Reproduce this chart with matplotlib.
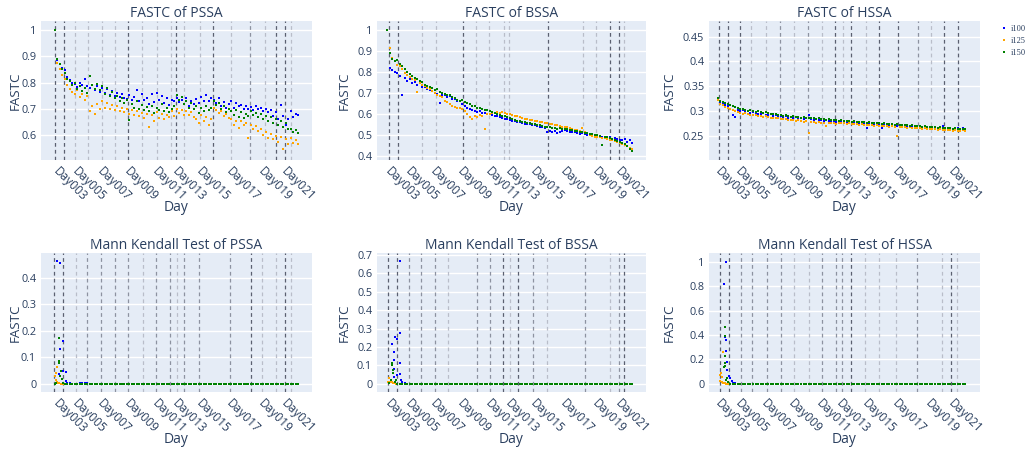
import matplotlib
matplotlib.use("Agg")
import matplotlib.pyplot as plt
from matplotlib.lines import Line2D
from matplotlib.ticker import FuncFormatter

plt.rcParams['font.family'] = ['Open Sans', 'DejaVu Sans']

# ---------------- data ----------------
series_names = ["i100", "i125", "i150"]
series_colors = ["blue", "orange", "green"]

day_labels = ["Day003", "Day005", "Day007", "Day009", "Day011",
              "Day013", "Day015", "Day017", "Day019", "Day021"]
day_tick_idx = [0, 8, 18, 29, 40, 48, 58, 70, 83, 92]
n_samples = 99

fastc_pssa_i100 = [1.000, 0.885, 0.870, 0.855, 0.848, 0.822, 0.810, 0.800, 0.795, 0.782,
                   0.800, 0.790, 0.812, 0.785, 0.778, 0.792, 0.770, 0.785, 0.765, 0.778,
                   0.760, 0.775, 0.752, 0.768, 0.748, 0.760, 0.745, 0.755, 0.742, 0.738,
                   0.752, 0.735, 0.745, 0.770, 0.728, 0.755, 0.735, 0.742, 0.718, 0.758,
                   0.725, 0.762, 0.735, 0.748, 0.722, 0.740, 0.715, 0.735, 0.728, 0.742,
                   0.725, 0.735, 0.718, 0.740, 0.712, 0.728, 0.720, 0.738, 0.722, 0.745,
                   0.728, 0.752, 0.730, 0.742, 0.735, 0.722, 0.740, 0.712, 0.725, 0.705,
                   0.718, 0.728, 0.705, 0.722, 0.710, 0.715, 0.700, 0.712, 0.698, 0.708,
                   0.695, 0.710, 0.698, 0.702, 0.690, 0.700, 0.688, 0.695, 0.672, 0.688,
                   0.660, 0.715, 0.672, 0.640, 0.662, 0.690, 0.670, 0.682, 0.675]
fastc_pssa_i125 = [1.000, 0.875, 0.850, 0.828, 0.815, 0.790, 0.775, 0.765, 0.755, 0.770,
                   0.745, 0.758, 0.735, 0.748, 0.690, 0.712, 0.680, 0.720, 0.700, 0.728,
                   0.705, 0.722, 0.700, 0.715, 0.695, 0.710, 0.692, 0.705, 0.688, 0.700,
                   0.682, 0.695, 0.675, 0.690, 0.672, 0.685, 0.665, 0.680, 0.631, 0.675,
                   0.655, 0.688, 0.665, 0.682, 0.660, 0.678, 0.668, 0.690, 0.672, 0.700,
                   0.685, 0.695, 0.678, 0.692, 0.675, 0.688, 0.670, 0.662, 0.648, 0.675,
                   0.655, 0.668, 0.640, 0.660, 0.705, 0.695, 0.685, 0.690, 0.672, 0.682,
                   0.665, 0.660, 0.640, 0.655, 0.628, 0.652, 0.638, 0.648, 0.590, 0.640,
                   0.625, 0.635, 0.615, 0.625, 0.600, 0.612, 0.590, 0.605, 0.585, 0.598,
                   0.575, 0.592, 0.549, 0.585, 0.565, 0.590, 0.572, 0.580, 0.568]
fastc_pssa_i150 = [1.000, 0.890, 0.872, 0.850, 0.838, 0.815, 0.805, 0.790, 0.800, 0.775,
                   0.785, 0.768, 0.780, 0.760, 0.826, 0.790, 0.775, 0.795, 0.770, 0.785,
                   0.755, 0.778, 0.748, 0.765, 0.740, 0.750, 0.728, 0.742, 0.722, 0.735,
                   0.659, 0.720, 0.705, 0.728, 0.700, 0.715, 0.695, 0.708, 0.690, 0.712,
                   0.685, 0.705, 0.695, 0.718, 0.690, 0.705, 0.688, 0.700, 0.710, 0.752,
                   0.735, 0.745, 0.720, 0.730, 0.705, 0.722, 0.700, 0.712, 0.685, 0.705,
                   0.690, 0.712, 0.695, 0.705, 0.728, 0.715, 0.722, 0.700, 0.710, 0.688,
                   0.700, 0.692, 0.678, 0.695, 0.670, 0.688, 0.665, 0.682, 0.672, 0.690,
                   0.675, 0.685, 0.668, 0.680, 0.660, 0.672, 0.655, 0.668, 0.645, 0.660,
                   0.640, 0.652, 0.630, 0.645, 0.622, 0.625, 0.612, 0.620, 0.608]

fastc_bssa_i100 = [1.000, 0.820, 0.810, 0.800, 0.795, 0.780, 0.692, 0.770, 0.758, 0.765,
                   0.745, 0.752, 0.740, 0.745, 0.730, 0.728, 0.720, 0.715, 0.708, 0.702,
                   0.695, 0.652, 0.690, 0.688, 0.680, 0.684, 0.672, 0.670, 0.662, 0.660,
                   0.648, 0.638, 0.630, 0.625, 0.620, 0.615, 0.610, 0.612, 0.605, 0.602,
                   0.600, 0.598, 0.595, 0.590, 0.588, 0.584, 0.580, 0.578, 0.575, 0.572,
                   0.568, 0.565, 0.562, 0.560, 0.556, 0.554, 0.552, 0.550, 0.546, 0.545,
                   0.542, 0.540, 0.538, 0.535, 0.515, 0.520, 0.512, 0.518, 0.510, 0.515,
                   0.520, 0.522, 0.518, 0.515, 0.514, 0.512, 0.510, 0.505, 0.508, 0.503,
                   0.500, 0.498, 0.497, 0.495, 0.493, 0.490, 0.490, 0.488, 0.486, 0.490,
                   0.482, 0.485, 0.480, 0.478, 0.475, 0.480, 0.468, 0.475, 0.460]
fastc_bssa_i125 = [1.000, 0.912, 0.868, 0.850, 0.835, 0.828, 0.815, 0.795, 0.785, 0.775,
                   0.768, 0.760, 0.705, 0.748, 0.740, 0.732, 0.725, 0.718, 0.710, 0.700,
                   0.692, 0.685, 0.680, 0.660, 0.655, 0.648, 0.640, 0.635, 0.630, 0.628,
                   0.622, 0.615, 0.598, 0.585, 0.575, 0.590, 0.585, 0.595, 0.590, 0.530,
                   0.598, 0.600, 0.602, 0.605, 0.608, 0.605, 0.610, 0.603, 0.600, 0.598,
                   0.595, 0.592, 0.588, 0.585, 0.580, 0.578, 0.575, 0.572, 0.570, 0.568,
                   0.565, 0.563, 0.560, 0.558, 0.555, 0.552, 0.550, 0.548, 0.545, 0.543,
                   0.540, 0.538, 0.536, 0.534, 0.530, 0.525, 0.522, 0.518, 0.535, 0.512,
                   0.508, 0.500, 0.495, 0.492, 0.490, 0.488, 0.486, 0.484, 0.482, 0.478,
                   0.475, 0.472, 0.468, 0.462, 0.458, 0.452, 0.446, 0.440, 0.432]
fastc_bssa_i150 = [1.000, 0.890, 0.860, 0.850, 0.855, 0.840, 0.830, 0.815, 0.800, 0.790,
                   0.780, 0.772, 0.765, 0.755, 0.750, 0.740, 0.735, 0.728, 0.722, 0.715,
                   0.718, 0.705, 0.700, 0.695, 0.690, 0.688, 0.682, 0.675, 0.668, 0.662,
                   0.668, 0.655, 0.650, 0.645, 0.640, 0.636, 0.630, 0.628, 0.625, 0.620,
                   0.618, 0.615, 0.610, 0.605, 0.600, 0.595, 0.592, 0.588, 0.585, 0.580,
                   0.575, 0.570, 0.568, 0.565, 0.562, 0.560, 0.558, 0.555, 0.552, 0.550,
                   0.548, 0.545, 0.543, 0.540, 0.540, 0.536, 0.535, 0.532, 0.530, 0.532,
                   0.528, 0.530, 0.526, 0.524, 0.522, 0.520, 0.518, 0.515, 0.512, 0.510,
                   0.508, 0.505, 0.503, 0.500, 0.498, 0.495, 0.454, 0.492, 0.488, 0.485,
                   0.482, 0.478, 0.472, 0.468, 0.462, 0.455, 0.448, 0.435, 0.422]

fastc_hssa_i100 = [0.322, 0.318, 0.315, 0.312, 0.310, 0.305, 0.293, 0.288, 0.302, 0.300,
                   0.302, 0.298, 0.300, 0.297, 0.298, 0.296, 0.295, 0.294, 0.296, 0.293,
                   0.292, 0.294, 0.290, 0.292, 0.289, 0.291, 0.288, 0.290, 0.287, 0.288,
                   0.286, 0.288, 0.285, 0.286, 0.284, 0.285, 0.293, 0.284, 0.282, 0.283,
                   0.281, 0.282, 0.280, 0.281, 0.280, 0.279, 0.280, 0.278, 0.279, 0.278,
                   0.277, 0.278, 0.276, 0.277, 0.275, 0.276, 0.275, 0.274, 0.275, 0.266,
                   0.274, 0.273, 0.274, 0.272, 0.273, 0.266, 0.272, 0.271, 0.272, 0.270,
                   0.271, 0.270, 0.271, 0.269, 0.270, 0.268, 0.269, 0.268, 0.267, 0.268,
                   0.267, 0.268, 0.266, 0.267, 0.268, 0.266, 0.267, 0.265, 0.266, 0.270,
                   0.266, 0.265, 0.266, 0.264, 0.265, 0.266, 0.264, 0.265, 0.263]
fastc_hssa_i125 = [0.322, 0.315, 0.312, 0.309, 0.307, 0.304, 0.302, 0.300, 0.298, 0.297,
                   0.295, 0.296, 0.294, 0.293, 0.292, 0.293, 0.291, 0.290, 0.289, 0.290,
                   0.288, 0.287, 0.286, 0.287, 0.285, 0.284, 0.283, 0.284, 0.282, 0.281,
                   0.282, 0.280, 0.281, 0.279, 0.278, 0.279, 0.256, 0.277, 0.278, 0.276,
                   0.277, 0.275, 0.276, 0.269, 0.276, 0.275, 0.276, 0.274, 0.275, 0.276,
                   0.275, 0.274, 0.275, 0.273, 0.274, 0.273, 0.272, 0.273, 0.272, 0.271,
                   0.272, 0.271, 0.270, 0.271, 0.270, 0.269, 0.270, 0.269, 0.268, 0.269,
                   0.268, 0.250, 0.268, 0.267, 0.268, 0.266, 0.267, 0.266, 0.265, 0.266,
                   0.265, 0.264, 0.265, 0.264, 0.263, 0.264, 0.263, 0.262, 0.263, 0.262,
                   0.261, 0.262, 0.261, 0.260, 0.261, 0.259, 0.260, 0.261, 0.260]
fastc_hssa_i150 = [0.326, 0.320, 0.318, 0.316, 0.314, 0.312, 0.310, 0.309, 0.306, 0.305,
                   0.304, 0.303, 0.301, 0.302, 0.300, 0.299, 0.300, 0.298, 0.297, 0.299,
                   0.296, 0.295, 0.294, 0.295, 0.293, 0.292, 0.291, 0.292, 0.290, 0.289,
                   0.290, 0.288, 0.289, 0.287, 0.288, 0.286, 0.287, 0.285, 0.286, 0.284,
                   0.285, 0.283, 0.284, 0.282, 0.283, 0.281, 0.282, 0.281, 0.280, 0.281,
                   0.279, 0.280, 0.279, 0.278, 0.279, 0.277, 0.278, 0.277, 0.278, 0.276,
                   0.277, 0.276, 0.275, 0.276, 0.275, 0.274, 0.275, 0.274, 0.273, 0.274,
                   0.272, 0.273, 0.272, 0.271, 0.272, 0.271, 0.270, 0.271, 0.270, 0.269,
                   0.270, 0.268, 0.269, 0.268, 0.267, 0.268, 0.267, 0.266, 0.267, 0.266,
                   0.265, 0.266, 0.265, 0.264, 0.265, 0.264, 0.263, 0.264, 0.263]

# Mann Kendall p-values: early points (fractional sample positions) + tail from an integer start
mk_pssa_i100_x = [0.9, 1.7, 2.0, 2.0, 3.4, 3.4, 4.4, 4.4]
mk_pssa_i100_y = [0.464, 0.036, 0.454, 0.133, 0.161, 0.049, 0.045, 0.011]
mk_pssa_i100_tail_start = 5
mk_pssa_i100_tail = [0.004, 0.002, 0.001, 0.001, 0.001, 0.003, 0.005, 0.002, 0.004, 0.001] + [0.0] * 84
mk_pssa_i125_x = [0.1, 0.3, 0.5, 0.7, 0.9, 1.3, 1.8, 2.4, 3.0, 3.5]
mk_pssa_i125_y = [0.029, 0.040, 0.016, 0.062, 0.008, 0.004, 0.002, 0.001, 0.001, 0.0]
mk_pssa_i125_tail_start = 4
mk_pssa_i125_tail = [0.0] * 95
mk_pssa_i150_x = [0.0, 0.5, 1.5, 1.6, 1.7, 2.0, 2.3, 2.8, 3.3]
mk_pssa_i150_y = [0.001, 0.003, 0.087, 0.077, 0.174, 0.029, 0.048, 0.018, 0.004]
mk_pssa_i150_tail_start = 4
mk_pssa_i150_tail = [0.0] * 95

mk_bssa_i100_x = [1.7, 2.7, 2.7, 2.7, 2.7, 3.1, 4.0, 4.0, 5.1, 5.1, 5.1, 5.1, 5.3, 5.7]
mk_bssa_i100_y = [0.219, 0.174, 0.132, 0.078, 0.038, 0.252, 0.241, 0.047, 0.668, 0.274, 0.114, 0.053, 0.020, 0.011]
mk_bssa_i100_tail_start = 6
mk_bssa_i100_tail = [0.004, 0.002, 0.001] + [0.0] * 90
mk_bssa_i125_x = [0.3, 0.8, 1.2, 1.7, 2.2, 2.8, 3.4]
mk_bssa_i125_y = [0.012, 0.029, 0.010, 0.008, 0.004, 0.002, 0.001]
mk_bssa_i125_tail_start = 4
mk_bssa_i125_tail = [0.0] * 95
mk_bssa_i150_x = [0.8, 1.5, 2.0, 2.0, 2.2, 2.4, 3.1, 3.5]
mk_bssa_i150_y = [0.004, 0.020, 0.114, 0.101, 0.060, 0.074, 0.011, 0.018]
mk_bssa_i150_tail_start = 4
mk_bssa_i150_tail = [0.0] * 95

mk_hssa_i100_x = [2.4, 3.0, 3.4, 3.4, 3.4, 3.7, 3.7, 4.6, 4.9, 5.7]
mk_hssa_i100_y = [0.817, 0.380, 1.000, 0.363, 0.270, 0.180, 0.112, 0.063, 0.044, 0.025]
mk_hssa_i100_tail_start = 6
mk_hssa_i100_tail = [0.008, 0.003, 0.001] + [0.0] * 90
mk_hssa_i125_x = [0.8, 1.0, 1.3, 1.6, 1.8, 2.0, 2.3, 2.8, 3.5]
mk_hssa_i125_y = [0.020, 0.075, 0.085, 0.057, 0.016, 0.262, 0.008, 0.003, 0.001]
mk_hssa_i125_tail_start = 4
mk_hssa_i125_tail = [0.0] * 95
mk_hssa_i150_x = [2.6, 2.8, 2.8, 3.0, 3.0, 3.0, 3.2, 3.9, 4.3]
mk_hssa_i150_y = [0.139, 0.390, 0.172, 0.467, 0.227, 0.150, 0.035, 0.044, 0.015]
mk_hssa_i150_tail_start = 5
mk_hssa_i150_tail = [0.0] * 94

# vertical dashed markers (sample positions) per panel: (dark, medium, light)
vl_pssa = ([0, 3.7, 29.6, 48.8, 63.8, 89, 92.9], [78.6],
           [8, 13.3, 19, 24, 35, 41, 46.8, 52.2, 58.3, 71, 84.5, 95])
vl_bssa = ([0.8, 4.4, 30.2, 64.2, 89, 92.8], [],
           [13.8, 19.5, 35.5, 40.8, 46.8, 48.8, 78.4, 83.5, 94.7])
vl_hssa = ([0.4, 4, 8.7, 46.6, 52.8, 64, 71.3, 89.5, 95], [24.5, 35.7, 79.2],
           [13.3, 19.2, 30.2, 41.2, 49.5, 58.8, 84.5])
vl_mk_pssa = ([-0.3, 3.4, 78.9, 92.7], [13, 18.4, 24.2, 29.6, 40.7, 46.4, 52.1, 58.2, 70.6],
              [8.5, 35.4, 49, 83.3, 89.1, 95])
vl_mk_bssa = ([0.4, 4, 46.4, 52.4, 94.7], [8.8, 13.4, 19.1, 35.8, 41, 58.1, 79, 92.8],
              [24.4, 49, 63.8, 89])
vl_mk_hssa = ([1, 4.6, 52.8, 92.4], [9.3, 13.8, 19.5, 25, 41.2, 46.8, 49.1, 78.8],
              [30.3, 36, 58.3, 64, 70.6, 88.7, 94.6])

# ---------------- figure ----------------
TXT = '#2a3f5f'
BG = '#E5ECF6'
fig = plt.figure(figsize=(10.28, 4.51), dpi=100)
W, H = 1028.0, 451.0

col_left = [41, 377, 709]
col_width = [271, 269, 271]
row_top = [20.7, 252.7]
row_h = 139.2
col_xlim = [(-5.65, 103.6), (-4.1, 103.5), (-3.4, 103.8)]
ylab_x = [-0.094, -0.121, -0.146]

top_data = [
    ("FASTC of PSSA", [fastc_pssa_i100, fastc_pssa_i125, fastc_pssa_i150], (0.506, 1.035),
     [0.6, 0.7, 0.8, 0.9, 1.0], vl_pssa),
    ("FASTC of BSSA", [fastc_bssa_i100, fastc_bssa_i125, fastc_bssa_i150], (0.381, 1.044),
     [0.4, 0.5, 0.6, 0.7, 0.8, 0.9, 1.0], vl_bssa),
    ("FASTC of HSSA", [fastc_hssa_i100, fastc_hssa_i125, fastc_hssa_i150], (0.2016, 0.482),
     [0.25, 0.3, 0.35, 0.4, 0.45], vl_hssa),
]

def build(xe, ye, start, tail):
    return xe + list(range(start, start + len(tail))), ye + tail

bottom_data = [
    ("Mann Kendall Test of PSSA",
     [build(mk_pssa_i100_x, mk_pssa_i100_y, mk_pssa_i100_tail_start, mk_pssa_i100_tail),
      build(mk_pssa_i125_x, mk_pssa_i125_y, mk_pssa_i125_tail_start, mk_pssa_i125_tail),
      build(mk_pssa_i150_x, mk_pssa_i150_y, mk_pssa_i150_tail_start, mk_pssa_i150_tail)],
     (-0.030, 0.494), [0, 0.1, 0.2, 0.3, 0.4], vl_mk_pssa),
    ("Mann Kendall Test of BSSA",
     [build(mk_bssa_i100_x, mk_bssa_i100_y, mk_bssa_i100_tail_start, mk_bssa_i100_tail),
      build(mk_bssa_i125_x, mk_bssa_i125_y, mk_bssa_i125_tail_start, mk_bssa_i125_tail),
      build(mk_bssa_i150_x, mk_bssa_i150_y, mk_bssa_i150_tail_start, mk_bssa_i150_tail)],
     (-0.044, 0.713), [0, 0.1, 0.2, 0.3, 0.4, 0.5, 0.6, 0.7], vl_mk_bssa),
    ("Mann Kendall Test of HSSA",
     [build(mk_hssa_i100_x, mk_hssa_i100_y, mk_hssa_i100_tail_start, mk_hssa_i100_tail),
      build(mk_hssa_i125_x, mk_hssa_i125_y, mk_hssa_i125_tail_start, mk_hssa_i125_tail),
      build(mk_hssa_i150_x, mk_hssa_i150_y, mk_hssa_i150_tail_start, mk_hssa_i150_tail)],
     (-0.066, 1.074), [0, 0.2, 0.4, 0.6, 0.8, 1.0], vl_mk_hssa),
]

vl_colors = ['#5b6070', '#8d92a0', '#b9bdc9']

def style_axes(ax, c, title, ylim, yticks, vls):
    ax.set_facecolor(BG)
    for s in ax.spines.values():
        s.set_visible(False)
    ax.set_xlim(*col_xlim[c])
    ax.set_ylim(*ylim)
    ax.set_yticks(yticks)
    ax.yaxis.set_major_formatter(FuncFormatter(lambda v, p: '{:g}'.format(round(v, 3))))
    ax.grid(axis='y', color='white', linewidth=1.0, zorder=0)
    ax.set_axisbelow(True)
    ax.tick_params(axis='y', length=0, labelsize=7.8, labelcolor=TXT, pad=3.5)
    ax.tick_params(axis='x', length=0, labelsize=8.6, labelcolor=TXT, pad=7)
    ax.set_xticks(day_tick_idx)
    ax.set_xticklabels(day_labels, rotation=-45, ha='left', va='center',
                       rotation_mode='anchor')
    for lvl, positions in enumerate(vls):
        for xv in positions:
            ax.axvline(xv, color=vl_colors[lvl], linewidth=0.9,
                       linestyle=(0, (3, 2.5)), zorder=1)
    ax.text(0.5, 1.0 + 7.5 / row_h, title, transform=ax.transAxes, ha='center',
            va='center', fontsize=10, color=TXT)
    ax.set_xlabel('Day', fontsize=10, color=TXT, va='center')
    ax.xaxis.set_label_coords(0.5, -0.345)
    ax.set_ylabel('FASTC', fontsize=9.6, color=TXT, va='center')
    ax.yaxis.set_label_coords(ylab_x[c], 0.5)

x_grid = list(range(n_samples))
for c, (title, ys, ylim, yticks, vls) in enumerate(top_data):
    ax = fig.add_axes([col_left[c] / W, 1 - (row_top[0] + row_h) / H,
                       col_width[c] / W, row_h / H])
    style_axes(ax, c, title, ylim, yticks, vls)
    for k, y in enumerate(ys):
        ax.scatter(x_grid, y, s=3.4, marker='s', color=series_colors[k],
                   linewidths=0, zorder=3)

for c, (title, xys, ylim, yticks, vls) in enumerate(bottom_data):
    ax = fig.add_axes([col_left[c] / W, 1 - (row_top[1] + row_h) / H,
                       col_width[c] / W, row_h / H])
    style_axes(ax, c, title, ylim, yticks, vls)
    for k, (xx, yy) in enumerate(xys):
        ax.scatter(xx, yy, s=3.4, marker='s', color=series_colors[k],
                   linewidths=0, zorder=3)

handles = [Line2D([], [], linestyle='none', marker='s', markersize=1.8,
                  markerfacecolor=col, markeredgewidth=0) for col in series_colors]
fig.legend(handles, series_names, loc='upper left',
           bbox_to_anchor=(997 / W, 1 - 21 / H), frameon=False,
           prop={'family': ['Liberation Serif', 'DejaVu Serif'], 'size': 6},
           handlelength=0.7, handletextpad=0.5, labelspacing=0.45, borderpad=0,
           labelcolor=TXT)

fig.savefig('out.png', dpi=100)
